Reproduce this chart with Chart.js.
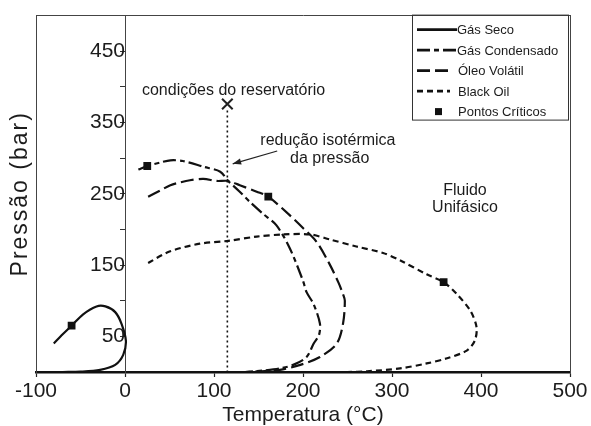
<!DOCTYPE html>
<html>
<head>
<meta charset="utf-8">
<script src="https://cdn.jsdelivr.net/npm/chart.js@4.4.0/dist/chart.umd.min.js"></script>
<style>
  body { margin: 0; background: #fff; }
  canvas { display: block; }
</style>
</head>
<body>
<canvas id="envelopes" width="591" height="426"></canvas>
<script>
// Temperatura (°C) / Pressão (bar)
var secoT = [-80, -70, -60, -47, -32, -22, -11, -4, 1, -2, -11, -28, -50, -70];
var secoP = [40, 53, 65, 81, 92, 92, 84, 68, 44, 24, 10, 3, 0.5, 0];

var condT = [15, 25, 40, 51, 65, 88, 107, 116, 128, 140, 155, 170, 185, 200, 204, 212, 219, 218, 212, 204, 189, 174, 155, 135];
var condP = [284, 289, 294, 297, 296, 288, 281, 268, 254, 239, 222, 206, 174, 128, 112, 95, 68, 52, 40, 21, 10, 5, 2, 0];

var voltT = [26, 40, 51, 62, 73, 88, 103, 116, 129, 148, 161, 185, 200, 215, 230, 240, 245, 247, 245, 238, 219, 197, 174, 150, 135];
var voltP = [246, 255, 262, 266, 269, 271, 268, 268, 262, 253, 246, 220, 202, 183, 151, 125, 109, 100, 68, 40, 21, 10, 3, 1, 0];

var blackT = [26, 50, 84, 116, 148, 178, 208, 230, 260, 290, 310, 339, 358, 373, 388, 395, 393, 384, 361, 339, 309, 272, 250, 200, 150, 135];
var blackP = [153, 169, 180, 184, 190, 193, 193, 186, 176, 167, 156, 137, 126, 109, 86, 63, 44, 30, 19, 12, 5, 1, 0, 0, 0, 0];

var criticoT = [-60, 25, 161, 358];
var criticoP = [65, 289, 246, 126];

var reservT = [115];
var reservP = [376];
var isotermaT = [115, 115];
var isotermaP = [367, 0];

var xTicks = [-100, 0, 100, 200, 300, 400, 500];
var yTicks = [50, 150, 250, 350, 450];

var notes = [
  { text: 'condições do reservatório', t: 122, p: 395 },
  { text: 'redução isotérmica', t: 228, p: 325 },
  { text: 'da pressão', t: 230, p: 299 },
  { text: 'Fluido', t: 382, p: 255 },
  { text: 'Unifásico', t: 382, p: 230 }
];
var arrow = { fromT: 171, fromP: 310, toT: 121, toP: 292 };

function pts(xs, ys) {
  return xs.map(function(x, i) { return { x: x, y: ys[i] }; });
}

var FONT = "'Liberation Sans', Arial, sans-serif";
var INK = '#1c1c1c';

function lineSet(label, xs, ys, dash) {
  return {
    label: label,
    data: pts(xs, ys),
    showLine: true,
    borderColor: '#111',
    borderWidth: 2.2,
    borderDash: dash,
    pointRadius: 0,
    tension: 0.3,
    fill: false
  };
}

var datasets = [
  lineSet('Gás Seco', secoT, secoP, []),
  lineSet('Gás Condensado', condT, condP, [13, 4, 5, 4]),
  lineSet('Óleo Volátil', voltT, voltP, [13, 5]),
  lineSet('Black Oil', blackT, blackP, [6, 4]),
  {
    label: 'Pontos Críticos',
    data: pts(criticoT, criticoP),
    showLine: false,
    pointStyle: 'rect',
    pointRadius: 5.5,
    backgroundColor: '#111',
    borderColor: '#111',
    borderWidth: 0
  },
  {
    label: 'reservatorio',
    data: pts(reservT, reservP),
    showLine: false,
    pointStyle: 'crossRot',
    pointRadius: 7.5,
    borderColor: '#222',
    borderWidth: 2
  },
  {
    label: 'isoterma',
    data: pts(isotermaT, isotermaP),
    showLine: true,
    borderColor: '#111',
    borderWidth: 1.6,
    borderDash: [2, 3],
    pointRadius: 0
  }
];

var legendItems = ['Gás Seco', 'Gás Condensado', 'Óleo Volátil', 'Black Oil', 'Pontos Críticos'];

// textos, seta, título do eixo y e legenda desenhados sobre o gráfico
var extras = {
  id: 'extras',
  afterDatasetsDraw: function(chart) {
    var ctx = chart.ctx, xs = chart.scales.x, ys = chart.scales.y, area = chart.chartArea;
    ctx.save();
    ctx.fillStyle = INK;
    ctx.font = '16px ' + FONT;
    ctx.textAlign = 'center';
    ctx.textBaseline = 'middle';
    notes.forEach(function(n) {
      ctx.fillText(n.text, xs.getPixelForValue(n.t), ys.getPixelForValue(n.p));
    });

    // título do eixo y (espaçado como no original)
    ctx.save();
    ctx.translate(21, (area.top + area.bottom) / 2);
    ctx.rotate(-Math.PI / 2);
    ctx.font = '23px ' + FONT;
    ctx.letterSpacing = '2px';
    ctx.fillText('Pressão (bar)', 0, 0);
    ctx.restore();

    // seta
    var x1 = xs.getPixelForValue(arrow.fromT), y1 = ys.getPixelForValue(arrow.fromP);
    var x2 = xs.getPixelForValue(arrow.toT), y2 = ys.getPixelForValue(arrow.toP);
    var a = Math.atan2(y2 - y1, x2 - x1);
    ctx.strokeStyle = '#222';
    ctx.lineWidth = 1.2;
    ctx.beginPath();
    ctx.moveTo(x1, y1);
    ctx.lineTo(x2, y2);
    ctx.stroke();
    ctx.beginPath();
    ctx.moveTo(x2, y2);
    ctx.lineTo(x2 - 9 * Math.cos(a - 0.35), y2 - 9 * Math.sin(a - 0.35));
    ctx.lineTo(x2 - 9 * Math.cos(a + 0.35), y2 - 9 * Math.sin(a + 0.35));
    ctx.closePath();
    ctx.fillStyle = '#222';
    ctx.fill();

    // legenda
    var bx = area.right - 158, by = area.top - 1, bw = 156, bh = 105;
    ctx.strokeStyle = '#333';
    ctx.lineWidth = 1;
    ctx.strokeRect(bx + 0.5, by + 0.5, bw, bh);
    ctx.font = '13px ' + FONT;
    ctx.textAlign = 'left';
    ctx.fillStyle = INK;
    legendItems.forEach(function(label, i) {
      var ds = chart.data.datasets[i];
      var ly = by + 15 + i * 20.5;
      if (i < 4) {
        ctx.setLineDash(ds.borderDash);
        ctx.lineWidth = 2.6;
        ctx.strokeStyle = '#111';
        ctx.beginPath();
        ctx.moveTo(bx + 5, ly);
        ctx.lineTo(bx + (i < 2 ? 45 : 38), ly);
        ctx.stroke();
        ctx.setLineDash([]);
      } else {
        ctx.fillStyle = '#111';
        ctx.fillRect(bx + 23, ly - 3.5, 7, 7);
        ctx.fillStyle = INK;
      }
      ctx.fillText(label, bx + 45 + (i < 2 ? 0 : 1), ly + 1);
    });
    ctx.restore();
  },
  beforeDraw: function(chart) {
    var ctx = chart.ctx;
    ctx.save();
    ctx.fillStyle = '#fff';
    ctx.fillRect(0, 0, chart.width, chart.height);
    ctx.restore();
  }
};

var frameAxis = function(axis, position, size) {
  return {
    axis: axis,
    type: 'linear',
    position: position,
    min: axis === 'x' ? -100 : 0,
    max: 500,
    ticks: { display: false },
    grid: { display: false, drawTicks: false },
    border: { display: true, color: '#444', width: 1 },
    afterFit: function(s) {
      if (axis === 'x') { s.height = size; } else { s.width = size; }
    }
  };
};

var ctx = document.getElementById('envelopes').getContext('2d');
var envelopes = new Chart(ctx, {
  type: 'scatter',
  data: { datasets: datasets },
  options: {
    responsive: false,
    animation: false,
    layout: { padding: 0 },
    plugins: {
      legend: { display: false },
      tooltip: { enabled: false }
    },
    scales: {
      x: {
        type: 'linear',
        position: 'bottom',
        min: -100,
        max: 500,
        afterBuildTicks: function(s) {
          s.ticks = xTicks.map(function(v) { return { value: v }; });
        },
        ticks: {
          color: INK,
          font: { family: FONT, size: 21 },
          padding: 2,
          maxRotation: 0,
          callback: function(v) { return String(v); }
        },
        grid: { drawOnChartArea: false, tickLength: 5, color: '#222', tickWidth: 1.2 },
        border: { display: true, color: '#111', width: 2.5 },
        title: {
          display: true,
          text: 'Temperatura (°C)',
          color: INK,
          font: { family: FONT, size: 21 },
          padding: { top: 0, bottom: -2 }
        },
        afterFit: function(s) { s.height = 54; }
      },
      y: {
        type: 'linear',
        position: { x: 0 },
        min: 0,
        max: 500,
        afterBuildTicks: function(s) {
          var t = [];
          for (var v = 0; v <= 500; v += 50) t.push({ value: v });
          s.ticks = t;
        },
        ticks: {
          color: INK,
          font: { family: FONT, size: 21 },
          padding: 3,
          callback: function(v) { return yTicks.indexOf(v) >= 0 ? String(v) : ''; }
        },
        grid: { drawOnChartArea: false, tickLength: 5, color: '#333' },
        border: { display: true, color: '#444', width: 1 }
      },
      yL: frameAxis('y', 'left', 36),
      yR: frameAxis('y', 'right', 21),
      xT: frameAxis('x', 'top', 11)
    }
  },
  plugins: [extras]
});
</script>
</body>
</html>
